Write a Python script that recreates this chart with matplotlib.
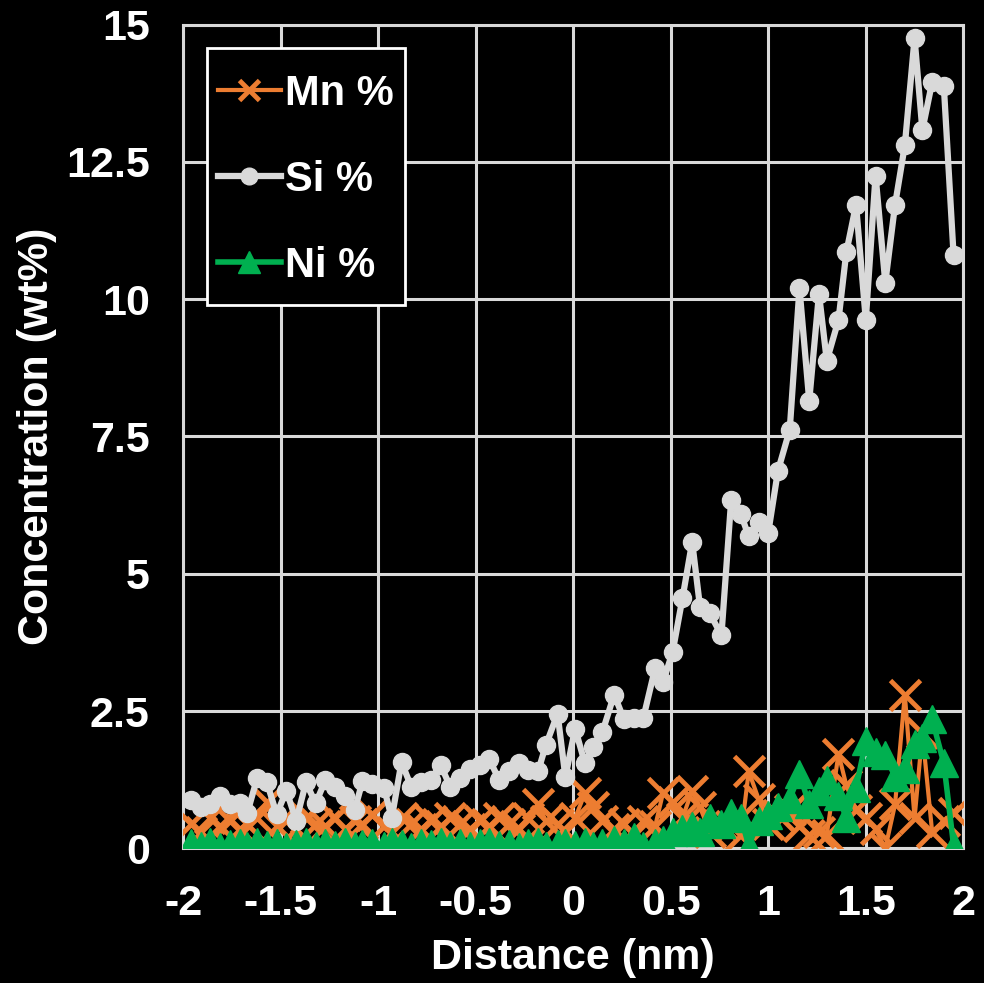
import numpy as np
import matplotlib
matplotlib.use("Agg")
import matplotlib.pyplot as plt
from matplotlib.patches import Rectangle

plt.rcParams['font.family'] = ['Liberation Sans', 'DejaVu Sans']
plt.rcParams['font.weight'] = 'bold'

# line profile across the interface
distance = [-1.96, -1.91, -1.86, -1.81, -1.76, -1.71, -1.67, -1.62, -1.57, -1.52,
            -1.47, -1.42, -1.37, -1.32, -1.27, -1.22, -1.17, -1.12, -1.08, -1.03,
            -0.97, -0.93, -0.88, -0.83, -0.78, -0.73, -0.68, -0.63, -0.58, -0.53,
            -0.48, -0.43, -0.38, -0.33, -0.28, -0.23, -0.18, -0.14, -0.08, -0.04,
            0.01, 0.06, 0.10, 0.15, 0.21, 0.26, 0.31, 0.36, 0.42, 0.46,
            0.51, 0.56, 0.61, 0.65, 0.70, 0.76, 0.81, 0.86, 0.90, 0.95,
            1.00, 1.05, 1.11, 1.16, 1.21, 1.26, 1.30, 1.36, 1.40, 1.45,
            1.50, 1.55, 1.60, 1.65, 1.70, 1.75, 1.79, 1.84, 1.90, 1.95]

si = [0.88, 0.75, 0.80, 0.95, 0.80, 0.82, 0.65, 1.28, 1.20, 0.62,
      1.05, 0.50, 1.20, 0.82, 1.24, 1.12, 0.95, 0.70, 1.22, 1.18,
      1.10, 0.55, 1.57, 1.12, 1.20, 1.25, 1.52, 1.12, 1.28, 1.45,
      1.52, 1.62, 1.25, 1.40, 1.55, 1.42, 1.40, 1.88, 2.45, 1.30,
      2.18, 1.55, 1.85, 2.12, 2.80, 2.35, 2.38, 2.38, 3.28, 3.02,
      3.58, 4.55, 5.58, 4.40, 4.28, 3.88, 6.35, 6.08, 5.68, 5.95,
      5.75, 6.88, 7.62, 10.20, 8.15, 10.10, 8.88, 9.62, 10.85, 11.72,
      9.62, 12.25, 10.30, 11.72, 12.80, 14.75, 13.08, 13.95, 13.88, 10.80]

mn = [0.45, 0.30, 0.55, 0.40, 0.50, 0.35, 0.45, 0.55, 0.85, 0.40,
      0.50, 0.35, 0.55, 0.45, 0.40, 0.55, 0.35, 0.50, 0.45, 0.60,
      0.40, 0.30, 0.55, 0.45, 0.35, 0.50, 0.40, 0.55, 0.45, 0.35,
      0.50, 0.40, 0.55, 0.45, 0.35, 0.55, 0.80, 0.50, 0.45, 0.30,
      0.55, 1.00, 0.75, 0.50, 0.35, 0.45, 0.25, 0.50, 0.40, 1.00,
      0.85, 0.55, 1.05, 0.75, 0.30, 0.45, 0.40, 0.25, 1.40, 0.90,
      0.45, 0.60, 0.70, 0.40, 0.25, 0.30, 0.25, 1.72, 1.15, 0.70,
      0.55, 0.35, 0.00, 0.80, 2.80, 0.55, 2.10, 0.30, 0.50, 0.65]

ni = [0.10, 0.05, 0.12, 0.03, 0.08, 0.10, 0.04, 0.12, 0.06, 0.10,
      0.03, 0.08, 0.12, 0.05, 0.10, 0.06, 0.12, 0.04, 0.08, 0.10,
      0.05, 0.12, 0.07, 0.03, 0.10, 0.08, 0.12, 0.05, 0.09, 0.04,
      0.10, 0.12, 0.06, 0.08, 0.03, 0.10, 0.12, 0.05, 0.08, 0.10,
      0.06, 0.12, 0.04, 0.10, 0.15, 0.10, 0.20, 0.05, 0.10, 0.15,
      0.30, 0.35, 0.40, 0.30, 0.55, 0.45, 0.65, 0.55, 0.05, 0.50,
      0.60, 0.75, 0.90, 1.35, 0.80, 1.05, 1.25, 0.95, 0.55, 1.10,
      1.95, 1.75, 1.70, 1.30, 1.45, 1.90, 2.00, 2.35, 1.55, 0.05]

x_ticks = [-2, -1.5, -1, -0.5, 0, 0.5, 1, 1.5, 2]
x_labels = ['-2', '-1.5', '-1', '-0.5', '0', '0.5', '1', '1.5', '2']
y_ticks = [0, 2.5, 5, 7.5, 10, 12.5, 15]
y_labels = ['0', '2.5', '5', '7.5', '10', '12.5', '15']

c_mn = '#ED7D31'
c_si = '#D9D9D9'
c_ni = '#00B050'
c_grid = '#D9D9D9'

fig = plt.figure(figsize=(9.84, 9.83), dpi=100, facecolor='black')
ax = fig.add_axes([0.186, 0.137, 0.793, 0.838], facecolor='black')

ax.plot(distance, mn, color=c_mn, lw=3, marker='x', ms=22, mew=3.5,
        label='Mn %', zorder=3)
ax.plot(distance, si, color=c_si, lw=4.5, marker='o', ms=13,
        label='Si %', zorder=4)
ax.plot(distance, ni, color=c_ni, lw=4, marker='^', ms=20,
        label='Ni %', zorder=5)

ax.set_xlim(-2, 2)
ax.set_ylim(0, 15)
ax.set_xticks(x_ticks)
ax.set_xticklabels(x_labels)
ax.set_yticks(y_ticks)
ax.set_yticklabels(y_labels)
ax.tick_params(colors='white', labelsize=31, length=0)
ax.tick_params(axis='x', pad=26)
ax.tick_params(axis='y', pad=24)
for lbl in ax.get_xticklabels() + ax.get_yticklabels():
    lbl.set_fontweight('bold')

ax.grid(True, color=c_grid, lw=2.2, zorder=0)
ax.set_axisbelow(True)
for sp in ax.spines.values():
    sp.set_color(c_grid)
    sp.set_linewidth(2.2)

ax.set_xlabel('Distance (nm)', color='white', fontsize=31, fontweight='bold', labelpad=10)
ax.set_ylabel('Concentration (wt%)', color='white', fontsize=31, fontweight='bold', labelpad=6)

# legend box drawn separately so its padding can differ from the entries
ax.add_patch(Rectangle((0.031, 0.659), 0.254, 0.313, transform=ax.transAxes,
                       facecolor='black', edgecolor='white', lw=2, zorder=6))
leg = ax.legend(loc='upper left', bbox_to_anchor=(0.045, 0.94), borderaxespad=0,
                fontsize=30, numpoints=1, handlelength=1.5, handletextpad=0.1,
                labelspacing=1.1, borderpad=0, frameon=False)
leg.set_zorder(7)
for t in leg.get_texts():
    t.set_color('white')
    t.set_fontweight('bold')
# smaller markers inside the legend handles
for h, ms in zip(leg.legend_handles, [14, 12, 16]):
    h.set_markersize(ms)

fig.savefig('out.png', dpi=100, facecolor='black')
